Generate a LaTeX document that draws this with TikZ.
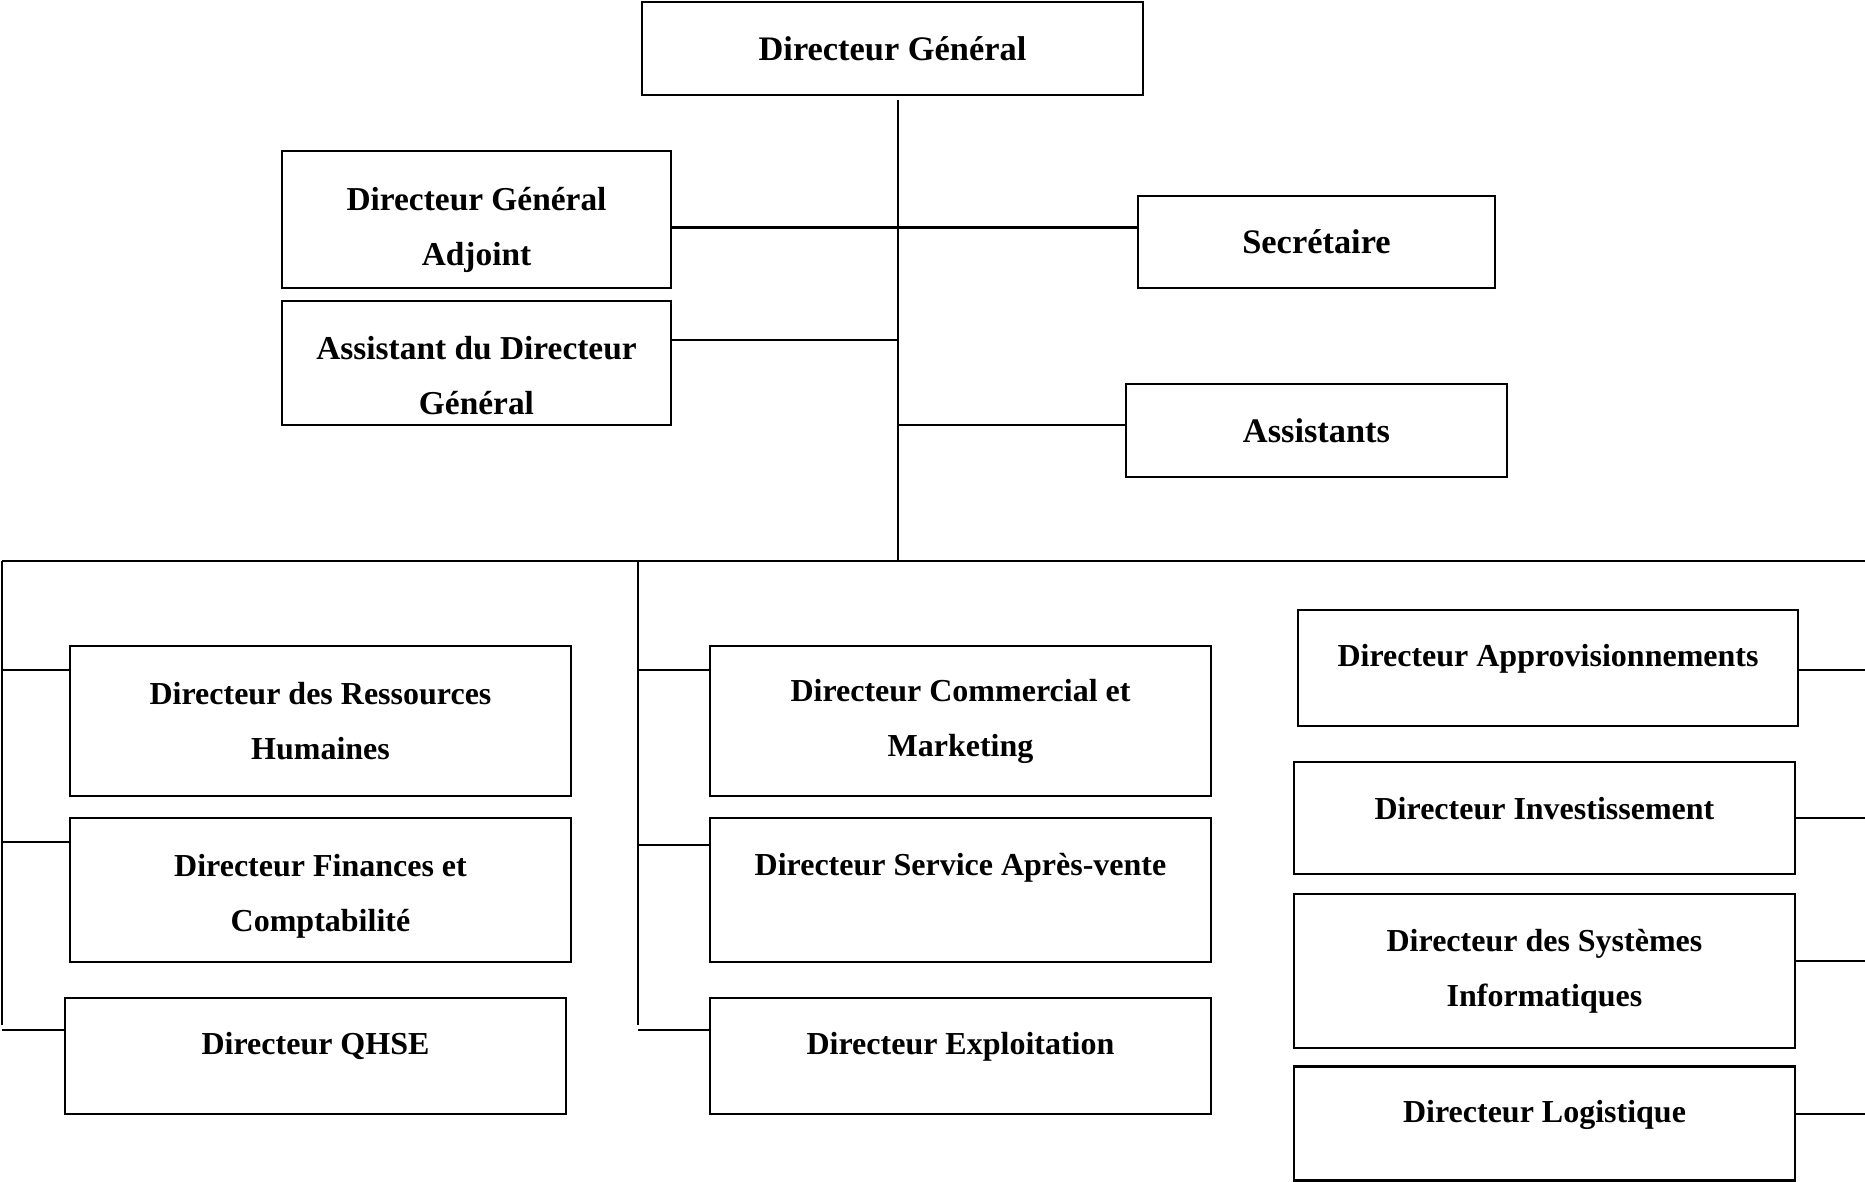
\documentclass[tikz,border=0pt]{standalone}
\usepackage{fontspec}
\setmainfont{Liberation Serif}
\usetikzlibrary{positioning}

\begin{document}
\begin{tikzpicture}[
    x=0.5pt, y=-0.5pt,
    unit/.style={rectangle, draw=black, line width=1.3pt, inner sep=0pt, align=center, font=\bfseries\fontsize{17.2}{27.5}\selectfont},
    unitm/.style={unit, font=\bfseries\fontsize{16.7}{27.5}\selectfont},
    wide/.style={unit, minimum width=250.5pt, font=\bfseries\fontsize{16}{27.5}\selectfont},
    upper/.style={text height=11.2pt, text depth=12.4pt},
    line/.style={line width=1.1pt}
]
\useasboundingbox (0,0) rectangle (1865,1182);

% top of the chart
\node[unit, minimum width=250.5pt, minimum height=46.5pt] (dg) at (892.5,48.5) {Directeur Général};
\node[unitm, minimum width=194.5pt, minimum height=68.5pt, text height=49.9pt] (dga) at (476.5,219.5) {Directeur Général\\Adjoint};
\node[unitm, minimum width=194.5pt, minimum height=62pt, text height=52.1pt] (adg) at (476.5,363) {Assistant du Directeur\\Général};
\node[unit, minimum width=178.5pt, minimum height=46pt] (sec) at (1316.5,242) {Secrétaire};
\node[unit, minimum width=190.5pt, minimum height=46.5pt] (asst) at (1316.5,430.5) {Assistants};

% left column
\node[wide, minimum height=75pt] (rh) at (320.5,721) {Directeur des Ressources\\Humaines};
\node[wide, minimum height=72pt, text height=44.7pt] (dfc) at (320.5,890) {Directeur Finances et\\Comptabilité};
\node[wide, upper, minimum height=58pt] (qhse) at (315.5,1056) {Directeur QHSE};

% middle column
\node[wide, minimum height=75pt] (dcm) at (960.5,721) {Directeur Commercial et\\Marketing};
\node[wide, upper, minimum height=72pt, text depth=25.9pt] (dsav) at (960.5,890) {Directeur Service Après-vente};
\node[wide, upper, minimum height=58pt] (dex) at (960.5,1056) {Directeur Exploitation};

% right column
\node[wide, upper, minimum width=250pt, minimum height=58pt] (dap) at (1548,668) {Directeur Approvisionnements};
\node[wide, upper, minimum height=56pt, text depth=9.8pt] (dinv) at (1544.5,818) {Directeur Investissement};
\node[wide, minimum height=77pt] (dsi) at (1544.5,971) {Directeur des Systèmes\\Informatiques};
\node[wide, upper, minimum height=57pt] (dlog) at (1544.5,1123.5) {Directeur Logistique};

\coordinate (top) at (898,100);
\coordinate (hub) at (898,561);
\coordinate (busL) at (2,561);
\coordinate (busR) at (1865,561);
\coordinate (busM) at (638,561);
\coordinate (endL) at (2,1025);
\coordinate (endM) at (638,1025);

\draw[line] (top) -- (hub);
\draw[line] ([yshift=-4pt]dga.east) -- ([yshift=-4pt]dga.east -| sec.west);
\draw[line] ([yshift=11.5pt]adg.east) -- ([yshift=11.5pt]adg.east -| hub);
\draw[line] ([yshift=2.75pt]asst.west) -- ([yshift=2.75pt]asst.west -| hub);

\draw[line] (busL) -- (busR);
\draw[line] (busL) -- (endL);
\draw[line] (busM) -- (endM);

\draw[line] ([yshift=25.5pt]rh.west) -- ([yshift=25.5pt]rh.west -| busL);
\draw[line] ([yshift=24pt]dfc.west) -- ([yshift=24pt]dfc.west -| busL);
\draw[line] ([yshift=13pt]qhse.west) -- ([yshift=13pt]qhse.west -| busL);

\draw[line] ([yshift=25.5pt]dcm.west) -- ([yshift=25.5pt]dcm.west -| busM);
\draw[line] ([yshift=22.5pt]dsav.west) -- ([yshift=22.5pt]dsav.west -| busM);
\draw[line] ([yshift=13pt]dex.west) -- ([yshift=13pt]dex.west -| busM);

\draw[line] ([yshift=-1pt]dap.east) -- ([yshift=-1pt]dap.east -| busR);
\draw[line] (dinv.east) -- (dinv.east -| busR);
\draw[line] ([yshift=5pt]dsi.east) -- ([yshift=5pt]dsi.east -| busR);
\draw[line] ([yshift=4.75pt]dlog.east) -- ([yshift=4.75pt]dlog.east -| busR);
\end{tikzpicture}
\end{document}
